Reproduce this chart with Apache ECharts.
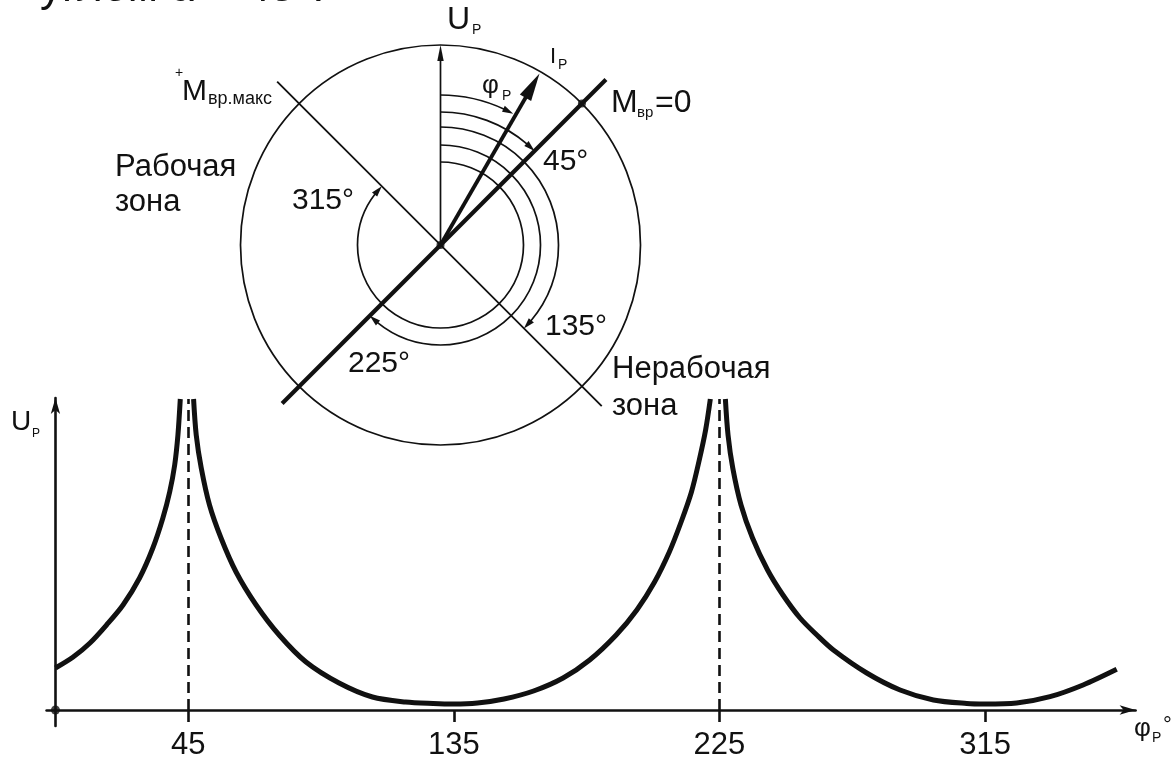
<!DOCTYPE html>
<html><head><meta charset="utf-8">
<script src="https://cdn.jsdelivr.net/npm/echarts@6/dist/echarts.min.js"></script>
<style>html,body{margin:0;padding:0;background:#fff}#c{width:1172px;height:758px}</style>
</head><body><div id="c"></div>
<script>
// ---------- lower graph: U_P versus phi_P ----------
const phiValues = [0, 6, 11.7, 17.3, 22.9, 28.5, 33, 36.4, 38.7, 40.4, 41.5, 42.3, 45,
  46.8, 47.7, 49.4, 52.2, 56.1, 61.2, 68, 75.8, 84.9, 96.1, 107.4, 118.6, 128, 135,
  143, 152, 162, 172, 181, 190, 197, 203, 208, 212, 215.5, 218, 220.3, 221.9, 225,
  227, 227.9, 229.5, 232.3, 236.2, 241.3, 246.5, 252.3, 258, 263.6, 274.9, 286.2, 297.5,
  308.8, 314.9, 325.7, 337, 348.2, 359.6];
const uValues = [42, 53, 67, 85, 105, 132, 162, 192, 218, 245, 275, 311, '-',
  311, 275, 242, 205, 172, 138, 105, 75, 48, 27, 13, 8, 6.5, 6,
  7, 11, 19, 32, 50, 75, 100, 128, 158, 188, 218, 248, 280, 311, '-',
  311, 275, 242, 205, 172, 140, 115, 92, 75, 60, 37, 20, 10,
  6.5, 6, 7, 13.3, 25, 40.7];
const tickValues = [45, 135, 225, 315];
const peakAngles = [45, 225];
const curveTop = 311;

// ---------- vector diagram (polar: radius, angle clockwise from U_P) ----------
const arcSpans = [29, 45, 135, 225, 315];
const arcRadii = [150, 133, 118, 100, 83];
const circleRadius = [200];
const vectorUp = [200, 0];
const vectorIp = [198, 30];
const lineMzero = [224, 225, 234, 45];
const lineMmax = [231, 315, 228, 135];
const dotPoints = [[0, 0], [200, 45]];

const INK = '#111';
const FONT = '"Liberation Sans", Arial, Helvetica, sans-serif';

function arcItem(params, api) {
  const r = api.value(0), span = api.value(1);
  const c = api.coord([0, 0]);
  const p0 = api.coord([r, 0]);
  const p1 = api.coord([r, span]);
  const R = Math.hypot(p0[0] - c[0], p0[1] - c[1]);
  const a0 = Math.atan2(p0[1] - c[1], p0[0] - c[0]);
  let a1 = Math.atan2(p1[1] - c[1], p1[0] - c[0]);
  while (a1 <= a0) a1 += Math.PI * 2;
  const L = 11, W = 3.3;
  const aBase = a1 - L / R;
  const bx = c[0] + R * Math.cos(aBase), by = c[1] + R * Math.sin(aBase);
  const nx = Math.cos(aBase), ny = Math.sin(aBase);
  return {type: 'group', children: [
    {type: 'arc', shape: {cx: c[0], cy: c[1], r: R, startAngle: a0, endAngle: aBase + 0.01, clockwise: true},
      style: {stroke: INK, fill: 'none', lineWidth: 1.7}},
    {type: 'polygon', shape: {points: [[p1[0], p1[1]], [bx + nx * W, by + ny * W], [bx - nx * W, by - ny * W]]},
      style: {fill: INK}}
  ]};
}
function segItem(lw) {
  return function (params, api) {
    const p = api.coord([api.value(0), api.value(1)]);
    const q = api.coord([api.value(2), api.value(3)]);
    return {type: 'line', shape: {x1: p[0], y1: p[1], x2: q[0], y2: q[1]}, style: {stroke: INK, lineWidth: lw}};
  };
}
function vecItem(L, W, lw) {
  return function (params, api) {
    const c = api.coord([0, 0]);
    const t = api.coord([api.value(0), api.value(1)]);
    const dx = t[0] - c[0], dy = t[1] - c[1], len = Math.hypot(dx, dy);
    const ux = dx / len, uy = dy / len;
    const bx = t[0] - ux * L, by = t[1] - uy * L;
    return {type: 'group', children: [
      {type: 'line', shape: {x1: c[0], y1: c[1], x2: bx + ux * 3, y2: by + uy * 3}, style: {stroke: INK, lineWidth: lw}},
      {type: 'polygon', shape: {points: [[t[0], t[1]], [bx - uy * W, by + ux * W], [bx + uy * W, by - ux * W]]}, style: {fill: INK}}
    ]};
  };
}
function circleItem(params, api) {
  const c = api.coord([0, 0]);
  const p = api.coord([api.value(0), 0]);
  return {type: 'circle', shape: {cx: c[0], cy: c[1], r: Math.hypot(p[0] - c[0], p[1] - c[1])},
    style: {fill: 'none', stroke: INK, lineWidth: 1.7}};
}
function txt(x, y, text, size, align) {
  return {type: 'text', x: x, y: y, z: 20,
    style: {text: text, font: size + 'px ' + FONT, fill: INK, textAlign: align || 'left', textVerticalAlign: 'middle'}};
}

const curveData = phiValues.map((p, i) => [p, uValues[i]]);

const chart = echarts.init(document.getElementById('c'), null, {renderer: 'canvas'});
chart.setOption({
  animation: false,
  backgroundColor: '#fff',
  grid: {left: 46.6, right: 36.4, top: 398, bottom: 32, containLabel: false, outerBoundsMode: 'none'},
  xAxis: {
    type: 'value', min: -3, max: 366,
    splitLine: {show: false},
    axisLine: {onZero: true, lineStyle: {color: INK, width: 2.6}, symbol: ['none', 'arrow'], symbolSize: [7, 16]},
    axisTick: {show: true, customValues: tickValues, length: 12, lineStyle: {color: INK, width: 2.6}},
    axisLabel: {show: true, customValues: tickValues, margin: 4, color: INK, fontSize: 31, fontFamily: FONT}
  },
  yAxis: {
    type: 'value', min: -16, max: 312,
    splitLine: {show: false},
    axisLine: {onZero: true, lineStyle: {color: INK, width: 2.6}, symbol: ['none', 'arrow'], symbolSize: [7, 16]},
    axisTick: {show: false},
    axisLabel: {show: false}
  },
  polar: {center: [440.5, 245], radius: 240},
  radiusAxis: {type: 'value', min: 0, max: 240, show: false,
    axisLine: {show: false}, axisTick: {show: false}, axisLabel: {show: false}, splitLine: {show: false}},
  angleAxis: {type: 'value', min: 0, max: 360, startAngle: 90, clockwise: true, show: false,
    axisLine: {show: false}, axisTick: {show: false}, axisLabel: {show: false}, splitLine: {show: false}},
  series: [
    {
      type: 'line', name: 'U_P', data: curveData, showSymbol: false, smooth: 0.3,
      connectNulls: false, clip: true, z: 4,
      lineStyle: {color: INK, width: 5}, itemStyle: {color: INK},
      markLine: {
        silent: true, symbol: ['none', 'none'], label: {show: false},
        lineStyle: {color: INK, width: 2.6, type: [11, 6]},
        data: peakAngles.map(a => [{coord: [a, 0]}, {coord: [a, curveTop]}])
      }
    },
    {type: 'scatter', data: [[0, 0]], symbolSize: 9, itemStyle: {color: INK}, z: 5},
    {type: 'custom', coordinateSystem: 'polar', data: circleRadius.map(r => [r, 0]), renderItem: circleItem, z: 2},
    {type: 'custom', coordinateSystem: 'polar', data: arcSpans.map((s, i) => [arcRadii[i], s]), renderItem: arcItem, z: 3},
    {type: 'custom', coordinateSystem: 'polar', data: [lineMmax], renderItem: segItem(1.8), z: 3},
    {type: 'custom', coordinateSystem: 'polar', data: [lineMzero], renderItem: segItem(4.2), z: 4},
    {type: 'custom', coordinateSystem: 'polar', data: [vectorUp], renderItem: vecItem(16, 3.2, 1.7), z: 4},
    {type: 'custom', coordinateSystem: 'polar', data: [vectorIp], renderItem: vecItem(28, 6.5, 3.8), z: 5},
    {type: 'scatter', coordinateSystem: 'polar', data: dotPoints, symbolSize: 8, itemStyle: {color: INK}, z: 6}
  ],
  graphic: {elements: [
    txt(40, -11, 'углом α = 45°.', 44),
    txt(447, 20, 'U', 32), txt(472, 30, 'P', 14),
    txt(550, 57, 'I', 22), txt(558, 65, 'P', 14),
    txt(482, 86, 'φ', 26), txt(502, 96, 'P', 14),
    txt(611, 103.5, 'M', 32), txt(637, 113, 'вр', 15), txt(655, 103.5, '=0', 32),
    txt(175, 73, '+', 14), txt(182, 91.5, 'M', 30), txt(208, 99.5, 'вр.макс', 18),
    txt(543, 162, '45°', 30),
    txt(292, 201, '315°', 30),
    txt(545, 326.5, '135°', 30),
    txt(348, 363.5, '225°', 30),
    txt(115, 167.6, 'Рабочая', 31), txt(115, 202.6, 'зона', 31),
    txt(612, 369.3, 'Нерабочая', 31), txt(612, 406.3, 'зона', 31),
    txt(11, 422, 'U', 28), txt(32, 434, 'P', 12),
    txt(1134, 729, 'φ', 26), txt(1152, 738, 'P', 14), txt(1163, 726, '°', 22)
  ]}
});
</script></body></html>
